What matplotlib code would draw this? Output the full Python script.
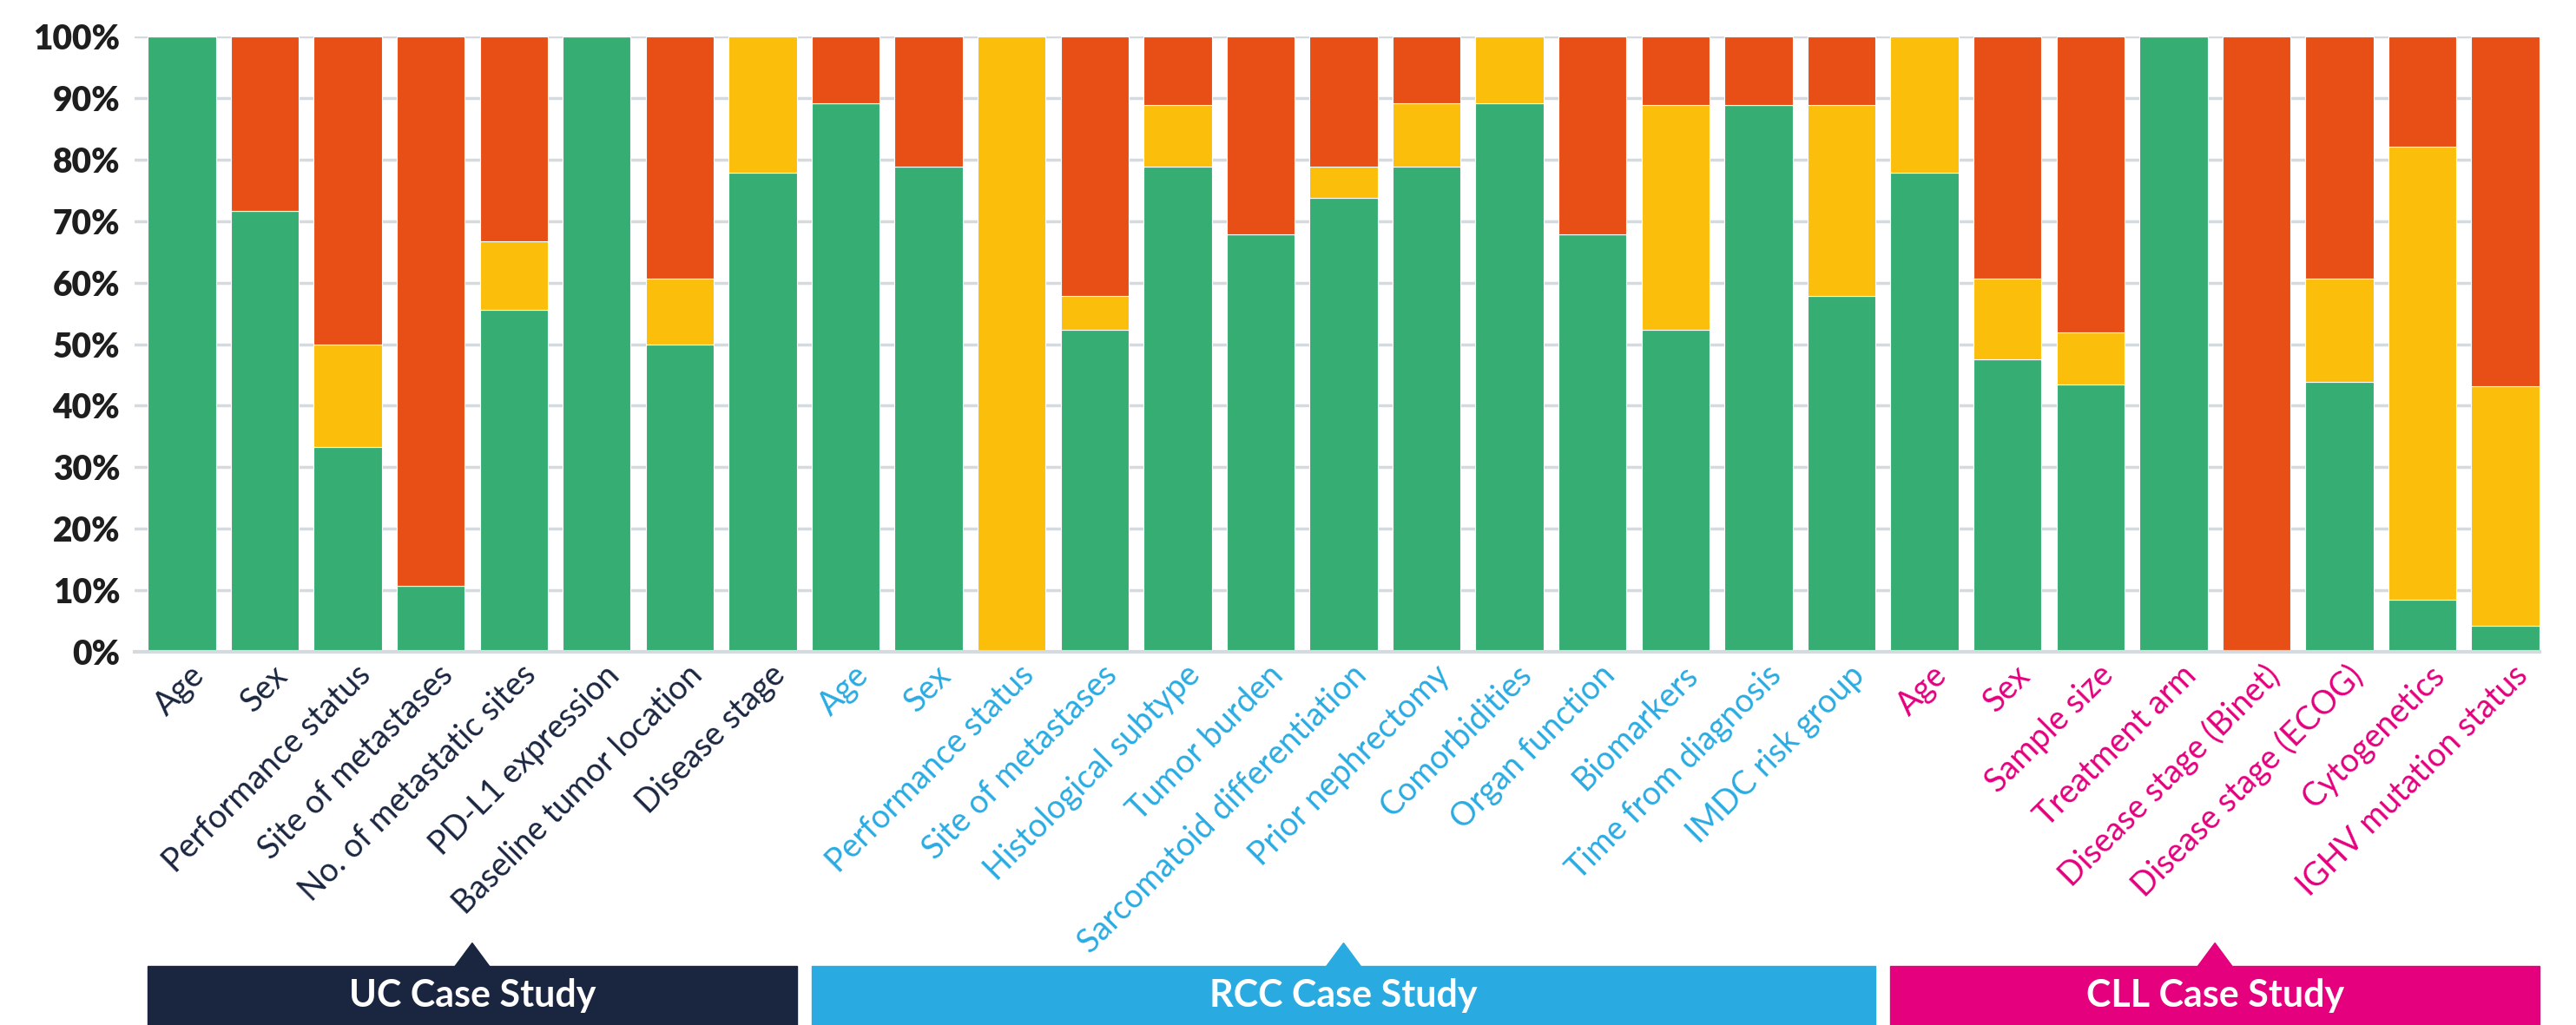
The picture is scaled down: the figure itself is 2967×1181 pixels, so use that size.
import matplotlib.pyplot as plt
import matplotlib.transforms as mtransforms
from matplotlib.patches import Rectangle, Polygon
import numpy as np

plt.rcParams['font.family'] = ['Lato', 'DejaVu Sans']

uc_labels = ["Age", "Sex", "Performance status", "Site of metastases",
             "No. of metastatic sites", "PD-L1 expression",
             "Baseline tumor location", "Disease stage"]
rcc_labels = ["Age", "Sex", "Performance status", "Site of metastases",
              "Histological subtype", "Tumor burden", "Sarcomatoid differentiation",
              "Prior nephrectomy", "Comorbidities", "Organ function", "Biomarkers",
              "Time from diagnosis", "IMDC risk group"]
cll_labels = ["Age", "Sex", "Sample size", "Treatment arm", "Disease stage (Binet)",
              "Disease stage (ECOG)", "Cytogenetics", "IGHV mutation status"]

# percentages: green (bottom), yellow (middle), orange (top)
uc_green = [100, 71.7, 33.3, 10.7, 55.6, 100, 50.0, 77.8]
uc_yellow = [0, 0, 16.7, 0, 11.1, 0, 10.7, 22.2]
uc_orange = [0, 28.3, 50.0, 89.3, 33.3, 0, 39.3, 0]

rcc_green = [89.1, 78.9, 0, 52.3, 78.8, 67.9, 73.7, 78.9, 89.1, 67.9, 52.3, 88.9, 57.9]
rcc_yellow = [0, 0, 100, 5.6, 10.1, 0, 5.2, 10.2, 10.9, 0, 36.6, 0, 31.0]
rcc_orange = [10.9, 21.1, 0, 42.1, 11.1, 32.1, 21.1, 10.9, 0, 32.1, 11.1, 11.1, 11.1]

cll_green = [77.8, 47.5, 43.4, 100, 0, 43.8, 8.4, 4.2]
cll_yellow = [22.2, 13.1, 8.5, 0, 0, 16.8, 73.7, 38.9]
cll_orange = [0, 39.4, 48.1, 0, 100, 39.4, 17.9, 56.9]

groups = ["UC Case Study", "RCC Case Study", "CLL Case Study"]
group_colors = ["#1a2640", "#29abe2", "#e5007d"]

green_c = "#36ae73"
yellow_c = "#fbbe0b"
orange_c = "#e84f16"

labels = uc_labels + rcc_labels + cll_labels
green = np.array(uc_green + rcc_green + cll_green)
yellow = np.array(uc_yellow + rcc_yellow + cll_yellow)
orange = np.array(uc_orange + rcc_orange + cll_orange)
sizes = [len(uc_labels), len(rcc_labels), len(cll_labels)]
label_colors = []
for n, c in zip(sizes, group_colors):
    label_colors += [c] * n

x = np.arange(len(labels))
w = 0.82

fig = plt.figure(figsize=(29.67, 11.81), dpi=100)
ax = fig.add_axes([0.0522, 0.3641, 0.9336, 0.6003])

ax.bar(x, green, w, color=green_c, edgecolor="white", linewidth=0.8, zorder=3)
ax.bar(x, yellow, w, bottom=green, color=yellow_c, edgecolor="white", linewidth=0.8, zorder=3)
ax.bar(x, orange, w, bottom=green + yellow, color=orange_c, edgecolor="white", linewidth=0.8, zorder=3)

ax.set_xlim(-0.57, len(labels) - 1 + 0.41)
ax.set_ylim(0, 100)
ax.set_yticks(np.arange(0, 101, 10))
ax.set_yticklabels([f"{v}%" for v in range(0, 101, 10)], fontsize=28,
                   fontweight="heavy", color="#1e1e1e")
ax.yaxis.grid(True, color="#d5dade", linewidth=2.5, zorder=0)
ax.set_axisbelow(True)
ax.tick_params(axis="y", length=0, pad=12)
ax.tick_params(axis="x", length=0)
ax.set_xticks([])
for s in ["top", "right", "left"]:
    ax.spines[s].set_visible(False)
ax.spines["bottom"].set_color("#d5dade")
ax.spines["bottom"].set_linewidth(3)
ax.spines["bottom"].set_zorder(4)

# rotated category labels
tr = mtransforms.blended_transform_factory(ax.transData, ax.transAxes)
for i, (lab, col) in enumerate(zip(labels, label_colors)):
    ax.text(i + 0.08, -0.012, lab, transform=tr, rotation=45, rotation_mode="anchor",
            ha="right", va="top", fontsize=27, fontweight="normal", color=col)

# group boxes with triangle markers
trf = mtransforms.blended_transform_factory(ax.transData, fig.transFigure)
start = 0
for n, name, col in zip(sizes, groups, group_colors):
    x0 = start - w / 2
    x1 = start + n - 1 + w / 2
    box = Rectangle((x0, 0.0), x1 - x0, 0.058, transform=trf, color=col, clip_on=False)
    ax.add_patch(box)
    mid = (x0 + x1) / 2
    tri = Polygon([(mid - 0.21, 0.057), (mid + 0.21, 0.057), (mid, 0.080)],
                  closed=True, transform=trf, color=col, clip_on=False)
    ax.add_patch(tri)
    ax.text(mid, 0.029, name, transform=trf, ha="center", va="center",
            fontsize=31, fontweight="bold", color="white")
    start += n

fig.savefig("out.png", dpi=100)
